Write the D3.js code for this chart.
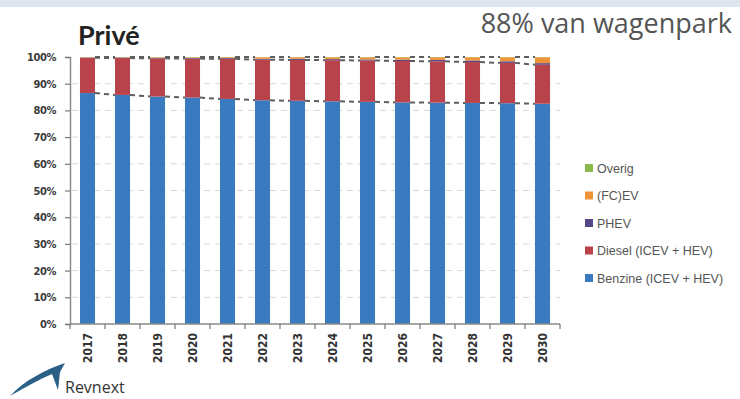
<!DOCTYPE html>
<html><head><meta charset="utf-8">
<script src="https://cdn.jsdelivr.net/npm/d3@7"></script>
<style>body{margin:0;background:#fff;}svg{display:block;}</style>
</head><body>
<svg id="chart" width="740" height="399"></svg>
<script>
const years = ["2017","2018","2019","2020","2021","2022","2023","2024","2025","2026","2027","2028","2029","2030"];
const benzine = [86.5,85.8,85.2,84.8,84.3,83.8,83.6,83.4,83.2,83.0,82.9,82.8,82.7,82.5];
const diesel  = [13.2,13.8,14.3,14.6,15.0,15.2,15.3,15.4,15.5,15.5,15.5,15.3,15.1,14.6];
const phev    = [0.1,0.2,0.2,0.3,0.3,0.3,0.4,0.4,0.4,0.5,0.5,0.6,0.6,0.6];
const fcev    = [0.1,0.1,0.2,0.2,0.3,0.6,0.6,0.7,0.8,0.9,1.0,1.2,1.5,2.2];
const overig  = [0.1,0.1,0.1,0.1,0.1,0.1,0.1,0.1,0.1,0.1,0.1,0.1,0.1,0.1];
const seriesNames = ["Benzine (ICEV + HEV)","Diesel (ICEV + HEV)","PHEV","(FC)EV","Overig"];
const seriesColors = ["#3a7bc0","#b9434b","#55468a","#f0943a","#8cb94e"];
const yTicks = [0,10,20,30,40,50,60,70,80,90,100];

const svg = d3.select("#chart");
svg.append("rect").attr("x",0).attr("y",0).attr("width",740).attr("height",7).attr("fill","#dde6ee");

const rows = years.map((y,i)=>({year:y,s0:benzine[i],s1:diesel[i],s2:phev[i],s3:fcev[i],s4:overig[i]}));
const keys = ["s0","s1","s2","s3","s4"];
const stack = d3.stack().keys(keys)(rows);

const x = d3.scaleBand().domain(years).range([70,560]).paddingInner(0.57).paddingOuter(0.285);
const y = d3.scaleLinear().domain([0,100]).range([324,57]);

// gridlines
svg.append("g").selectAll("line").data(yTicks.filter(t=>t>0&&t<100)).join("line")
  .attr("x1",72).attr("x2",560).attr("y1",d=>y(d)).attr("y2",d=>y(d))
  .attr("stroke","#d8d8d8").attr("stroke-width",1).attr("stroke-dasharray","6,5");

// bars
const g = svg.append("g");
stack.forEach((layer,k)=>{
  g.append("g").attr("fill",seriesColors[k]).selectAll("rect").data(layer).join("rect")
    .attr("x",d=>x(d.data.year)).attr("width",x.bandwidth())
    .attr("y",d=>y(d[1])).attr("height",d=>Math.max(0,y(d[0])-y(d[1])));
});

// series lines
const sl = svg.append("g").attr("stroke","#5e5e5e").attr("stroke-width",2).attr("stroke-dasharray","5,4").attr("fill","none");
stack.forEach((layer,k)=>{
  if(k===2||k===3) return;
  for(let i=0;i<layer.length-1;i++){
    sl.append("line")
      .attr("x1",x(years[i])+x.bandwidth()).attr("x2",x(years[i+1]))
      .attr("y1",y(layer[i][1])).attr("y2",y(layer[i+1][1]));
  }
});

// y axis
const yAxis = d3.axisLeft(y).tickValues(yTicks).tickFormat(d=>d+"%").tickSize(5).tickPadding(9);
const ya = svg.append("g").attr("transform","translate(70,0)").call(yAxis);
ya.select(".domain").attr("stroke","#8a8a8a").attr("stroke-width",1.5);
ya.selectAll(".tick line").attr("stroke","#777").attr("stroke-width",1.2);
ya.selectAll("text").attr("fill","#3a3a3a").attr("font-family","'DejaVu Sans Condensed','Liberation Sans Narrow',sans-serif").attr("font-weight","bold").attr("font-size","11px").attr("letter-spacing","-0.4px");

// x axis
const xa = svg.append("g").attr("transform","translate(0,324)");
xa.append("line").attr("x1",70).attr("x2",560).attr("stroke","#8a8a8a").attr("stroke-width",1.5);
const bounds = d3.range(years.length+1).map(i=>70+i*x.step());
xa.selectAll(".xt").data(bounds).join("line").attr("class","xt")
  .attr("x1",d=>d).attr("x2",d=>d).attr("y1",0).attr("y2",5).attr("stroke","#777").attr("stroke-width",1.2);
xa.selectAll("text").data(years).join("text")
  .attr("transform",d=>`translate(${x(d)+x.bandwidth()/2+4.5},9) rotate(-90)`)
  .attr("text-anchor","end").attr("fill","#333")
  .attr("font-family","'DejaVu Sans Condensed','DejaVu Sans',sans-serif").attr("font-weight","bold").attr("font-size","12px")
  .text(d=>d);

// legend
const legendOrder = [4,3,2,1,0];
const lg = svg.append("g");
legendOrder.forEach((k,j)=>{
  const cy = 168 + j*27.5;
  lg.append("rect").attr("x",585).attr("y",cy-4).attr("width",8).attr("height",8).attr("fill",seriesColors[k]);
  lg.append("text").attr("x",597).attr("y",cy+4.5).attr("fill","#555").attr("font-family","'Liberation Sans',sans-serif").attr("font-size","12.5px").text(seriesNames[k]);
});

// titles
svg.append("text").attr("x",78).attr("y",45).attr("font-family","Lato,sans-serif").attr("font-weight","bold").attr("font-size","27px").attr("fill","#222").text("Privé");
svg.append("text").attr("x",732).attr("y",33).attr("text-anchor","end").attr("font-family","'Open Sans',sans-serif").attr("font-size","27px").attr("fill","#555").text("88% van wagenpark");

// logo
svg.append("path").attr("d","M10,396 C25,380 45,370 65,363 L60,372 L58,390 L52,374 C38,380 24,388 10,396 Z").attr("fill","#2a5f86");
svg.append("text").attr("x",65).attr("y",393).attr("font-family","'Open Sans',sans-serif").attr("font-size","16px").attr("fill","#333").text("Revnext");
</script>
</body></html>
